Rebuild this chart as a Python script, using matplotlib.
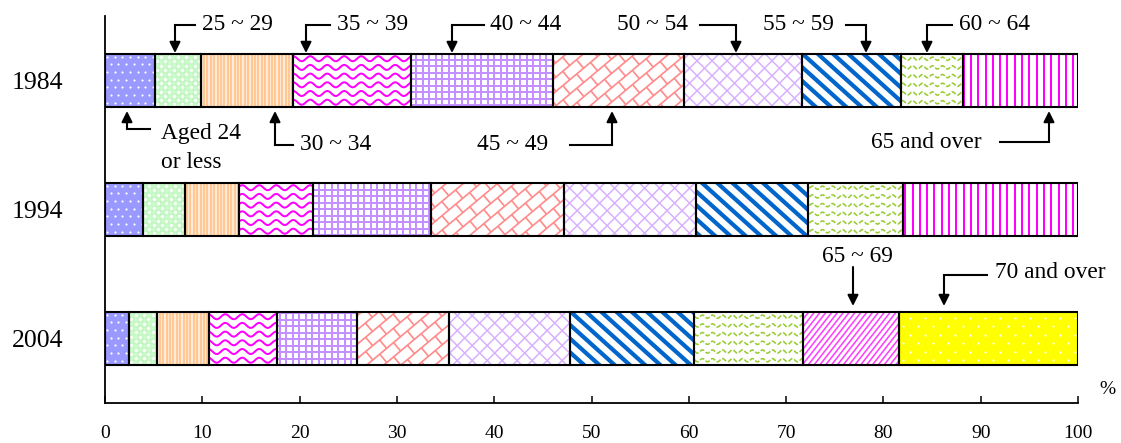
import numpy as np
import matplotlib
matplotlib.use("Agg")
import matplotlib.pyplot as plt
from matplotlib.collections import LineCollection
from matplotlib.lines import Line2D
from matplotlib.transforms import Affine2D

# ---------------- data ----------------
years = ["1984", "1994", "2004"]
age_groups = ["Aged 24\nor less", "25 ~ 29", "30 ~ 34", "35 ~ 39", "40 ~ 44",
              "45 ~ 49", "50 ~ 54", "55 ~ 59", "60 ~ 64", "65 and over",
              "65 ~ 69", "70 and over"]
share_1984 = [5.1, 4.8, 9.4, 12.1, 14.6, 13.5, 12.1, 10.2, 6.4, 11.8, 0, 0]
share_1994 = [3.9, 4.3, 5.6, 7.6, 12.1, 13.7, 13.5, 11.6, 9.7, 18.0, 0, 0]
share_2004 = [2.5, 2.8, 5.4, 7.0, 8.2, 9.5, 12.4, 12.7, 11.2, 0, 9.9, 18.4]
x_ticks = [0, 10, 20, 30, 40, 50, 60, 70, 80, 90, 100]

plt.rcParams["font.family"] = ["Liberation Serif", "DejaVu Serif"]

DPI = 100
W, H = 1121, 443
fig = plt.figure(figsize=(W / DPI, H / DPI), dpi=DPI)
ax = fig.add_axes([105 / W, 40 / H, 973 / W, 387 / H])
ax.set_xlim(0, 100)
ax.set_ylim(-0.5, 2.5)

PX = Affine2D().scale(1 / DPI) + fig.dpi_scale_trans          # display px, y up
REF = Affine2D().scale(1, -1).translate(0, H) + PX             # reference px, y down


# ---------------- pattern helpers (display pixel space) ----------------
def add_lines(segs, clip, color, lw_px, ls="-"):
    lc = LineCollection(segs, colors=color, linewidths=lw_px * 0.72,
                        linestyles=ls, transform=PX, zorder=2)
    ax.add_collection(lc, autolim=False)
    lc.set_clip_path(clip)


def line_pattern(rect, clip, angle, spacing, color, lw_px, phase=0.0):
    x0, y0, x1, y1 = rect
    cx, cy = (x0 + x1) / 2, (y0 + y1) / 2
    R = np.hypot(x1 - x0, y1 - y0) / 2 + spacing
    th = np.radians(angle)
    d = np.array([np.cos(th), np.sin(th)])
    n = np.array([-np.sin(th), np.cos(th)])
    c0 = cx * n[0] + cy * n[1]
    ts = np.arange(np.floor((c0 - R) / spacing) * spacing, c0 + R + spacing, spacing) + phase
    segs = []
    for t in ts:
        p = np.array([cx, cy]) + (t - c0) * n
        segs.append([p - R * d, p + R * d])
    add_lines(segs, clip, color, lw_px)
    return ts, c0, d, n, np.array([cx, cy]), R


def brick_pattern(rect, clip, angle, spacing, step, color, lw_px):
    ts, c0, d, n, C, R = line_pattern(rect, clip, angle, spacing, color, lw_px)
    segs = []
    for i, t in enumerate(ts):
        off = (i % 2) * step / 2
        for u in np.arange(-R + off, R, step):
            p = C + (t - c0) * n + u * d
            segs.append([p, p + spacing * n])
    add_lines(segs, clip, color, lw_px)


def wave_pattern(rect, clip, wavelength, amp, row, color, lw_px, ls="-"):
    x0, y0, x1, y1 = rect
    xs = np.arange(x0 - wavelength, x1 + wavelength, 0.5)
    rows = np.arange(y0 + row / 2, y1 + row, row)
    segs = [np.column_stack([xs, r + amp * np.sin(2 * np.pi * xs / wavelength)]) for r in rows]
    add_lines(segs, clip, color, lw_px, ls)


def dot_pattern(rect, clip, dx, dy, size_px, face, edge="none", ew=0.0):
    x0, y0, x1, y1 = rect
    xs_all, ys_all = [], []
    for j, yy in enumerate(np.arange(y0 + dy / 2, y1 + dy, dy)):
        off = (j % 2) * dx / 2
        xx = np.arange(x0 + off + dx / 4, x1 + dx, dx)
        xs_all.extend(xx)
        ys_all.extend([yy] * len(xx))
    ln = Line2D(xs_all, ys_all, linestyle="none", marker="o",
                markersize=size_px * 0.72, markerfacecolor=face,
                markeredgecolor=edge, markeredgewidth=ew * 0.72,
                transform=PX, zorder=2)
    ax.add_line(ln)
    ln.set_clip_path(clip)


backgrounds = ["#9999ff", "#ccffcc", "#fff0e0", "white", "white", "white",
               "white", "white", "white", "white", "white", "#ffff00"]


def draw_pattern(k, rect, clip):
    if k == 0:
        dot_pattern(rect, clip, 7.7, 7.7, 2.2, "white")
    elif k == 1:
        dot_pattern(rect, clip, 8.5, 4.3, 5.0, "#f4fff4", "#b5efb5", 0.8)
    elif k == 2:
        line_pattern(rect, clip, 90, 3.4, "#ffc894", 2.2)
    elif k == 3:
        wave_pattern(rect, clip, 17, 2.5, 8.7, "#ff00ff", 2.0)
    elif k == 4:
        line_pattern(rect, clip, 90, 6.5, "#c490ff", 2.0)
        line_pattern(rect, clip, 0, 6.5, "#c490ff", 2.0)
    elif k == 5:
        brick_pattern(rect, clip, 40, 11, 18, "#ff8c8c", 1.7)
    elif k == 6:
        line_pattern(rect, clip, 45, 10.6, "#d8b0ff", 1.5)
        line_pattern(rect, clip, -45, 10.6, "#d8b0ff", 1.5)
    elif k == 7:
        line_pattern(rect, clip, -42, 10.2, "#0066cc", 4.2)
    elif k == 8:
        wave_pattern(rect, clip, 10, 1.6, 8.7, "#99cc33", 1.6, (0, (3, 1.2)))
    elif k == 9:
        line_pattern(rect, clip, 90, 7.3, "#ff00ff", 2.0)
    elif k == 10:
        line_pattern(rect, clip, 52, 4.6, "#ff40ff", 1.6)
    elif k == 11:
        dot_pattern(rect, clip, 15, 8.5, 2.2, "white")


# ---------------- bars ----------------
ypos = [2, 1, 0]
bar_h = 0.404
for yv, shares in zip(ypos, [share_1984, share_1994, share_2004]):
    vals = np.array(shares, dtype=float)
    lefts = np.concatenate([[0], np.cumsum(vals)[:-1]])
    for k, (v, l) in enumerate(zip(vals, lefts)):
        if v <= 0:
            continue
        bg = ax.barh(yv, v, left=l, height=bar_h, color=backgrounds[k],
                     edgecolor="none", zorder=1)[0]
        (px0, py0), (px1, py1) = ax.transData.transform([[l, yv - bar_h / 2],
                                                          [l + v, yv + bar_h / 2]])
        draw_pattern(k, (px0, py0, px1, py1), bg)
        ax.barh(yv, v, left=l, height=bar_h, color="none", edgecolor="black",
                linewidth=1.5, zorder=3)

# ---------------- axes styling ----------------
for s in ["top", "right"]:
    ax.spines[s].set_visible(False)
ax.spines["left"].set_linewidth(1.3)
ax.spines["bottom"].set_linewidth(1.3)
ax.set_xticks(x_ticks)
ax.set_xticklabels([str(t) for t in x_ticks])
ax.tick_params(axis="x", direction="in", length=5, width=1.1, pad=16, labelsize=14)
ax.set_yticks(ypos)
ax.set_yticklabels(years)
ax.tick_params(axis="y", length=0, pad=42 * 0.72, labelsize=18.5)

fig.text(1107 / W, 1 - 390 / H, "%", fontsize=14, ha="center", va="center")

# ---------------- annotations (reference pixel layout) ----------------
FS = 16.8


def poly(pts):
    xs, ys = zip(*pts)
    fig.add_artist(Line2D(xs, ys, color="black", lw=1.5, transform=REF))


def arrow(start, tip):
    ax.annotate("", xy=tip, xytext=start, xycoords=REF, textcoords=REF,
                arrowprops=dict(arrowstyle="-|>", color="black", lw=1.5,
                                mutation_scale=16, shrinkA=0, shrinkB=0),
                annotation_clip=False)


def label(x, y, s, ha):
    fig.text(x / W, 1 - y / H, s, fontsize=FS, ha=ha, va="center")


TOP_TIP, BOT_TIP = 53, 111
# arrow x, elbow y, elbow other x, text x, text side, label index
top_notes = [(175, 25, 195, 202, "left", 1), (306, 25, 330, 337, "left", 3),
             (452, 25, 484, 490, "left", 4), (736, 25, 700, 688, "right", 6),
             (866, 25, 846, 834, "right", 7), (927, 25, 952, 959, "left", 8)]
for vx, ey, ex, tx, side, k in top_notes:
    poly([(ex, ey), (vx, ey)])
    arrow((vx, ey), (vx, TOP_TIP))
    label(tx, ey, age_groups[k], side)

bot_notes = [(127, 129, 150, 161, 148, 0), (275, 145, 293, 300, 145, 2),
             (612, 145, 570, 548, 145, 5), (1049, 142, 1000, 982, 142, 9)]
for vx, ey, ex, tx, ty, k in bot_notes:
    poly([(ex, ey), (vx, ey)])
    arrow((vx, ey), (vx, BOT_TIP))
    side = "left" if tx > vx else "right"
    fig.text(tx / W, 1 - ty / H, age_groups[k], fontsize=FS, ha=side,
             va="center", linespacing=1.45)

# 2004
label(857, 257, age_groups[10], "center")
arrow((853, 267), (853, 306))
poly([(987, 275), (944, 275)])
arrow((944, 275), (944, 306))
label(995, 272, age_groups[11], "left")

fig.savefig("out.png", dpi=DPI)
